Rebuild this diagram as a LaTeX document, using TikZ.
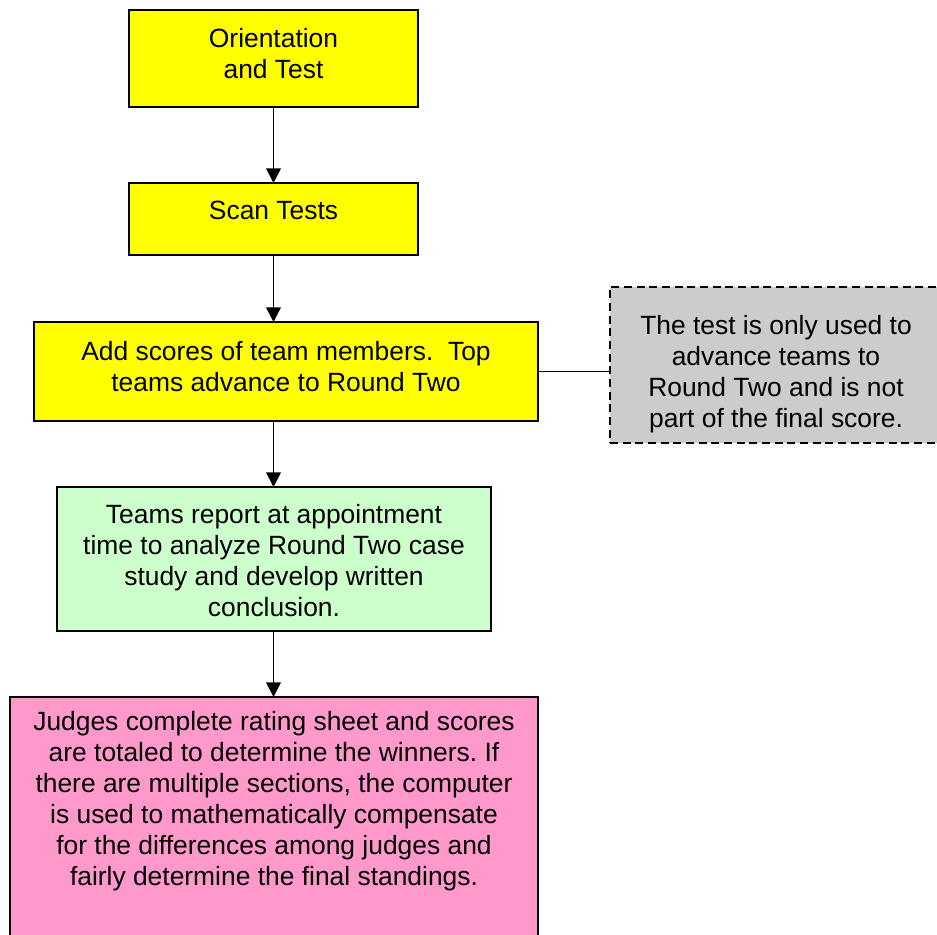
\documentclass[tikz,border=0pt]{standalone}
\usepackage{fontspec}
\setmainfont{Liberation Sans}
\usetikzlibrary{arrows.meta}
\definecolor{stepyellow}{RGB}{255,255,0}
\definecolor{stepgreen}{RGB}{204,255,204}
\definecolor{steppink}{RGB}{255,153,204}
\definecolor{notegray}{RGB}{204,204,204}
\frenchspacing
\begin{document}
\begin{tikzpicture}[x=0.75pt,y=-0.75pt,
  stepbox/.style={draw=black,line width=1.4pt,rectangle,inner sep=0pt,outer sep=0pt},
  notebox/.style={draw=black,line width=1.3pt,dash pattern=on 6pt off 3.5pt,fill=notegray,rectangle,inner sep=0pt,outer sep=0pt},
  txt/.style={align=center,font=\fontsize{19.8pt}{23.25pt}\selectfont,inner sep=0pt},
  flow/.style={line width=1.4pt,-{Triangle[length=11pt,width=11pt]}},
  link/.style={line width=1.4pt}]
\useasboundingbox (0,0) rectangle (937,934);
\clip (0,0) rectangle (937,934);

% boxes
\node[stepbox,fill=stepyellow,minimum width=216.75pt,minimum height=72.75pt] (b1) at (273.5,58.5) {};
\node[stepbox,fill=stepyellow,minimum width=216.75pt,minimum height=54pt] (b2) at (273.5,219) {};
\node[stepbox,fill=stepyellow,minimum width=378pt,minimum height=74.25pt] (b3) at (286,371.5) {};
\node[notebox,minimum width=249pt,minimum height=117pt] (note) at (776,365) {};
\node[stepbox,fill=stepgreen,minimum width=325.5pt,minimum height=108pt] (b4) at (274,559) {};
\node[stepbox,fill=steppink,minimum width=396pt,minimum height=197.25pt] (b5) at (274,828.5) {};

% texts
\node[txt] (t1) at (273.5,53.5) {Orientation\\and Test};
\node[txt] (t2) at (273.5,210) {Scan Tests};
\node[txt] (t3) at (286,367) {Add scores of team members.\ \ Top\\teams advance to Round Two};
\node[txt] (tn) at (776,374) {The test is only used to\\advance teams to\\Round Two and is not\\part of the final score.};
\node[txt] (t4) at (274,560.5) {Teams report at appointment\\time to analyze Round Two case\\study and develop written\\conclusion.};
\node[txt] (t5) at (274,801) {Judges complete rating sheet and scores\\are totaled to determine the winners. If\\there are multiple sections, the computer\\is used to mathematically compensate\\for the differences among judges and\\fairly determine the final standings.};

% connectors
\draw[flow] (b1.south) -- (b2.north);
\draw[flow] (b2.south) -- (b3.north -| b2.south);
\draw[flow] (b3.south -| b2.south) -- (b4.north -| b2.south);
\draw[flow] (b4.south -| b2.south) -- (b5.north -| b2.south);
\draw[link] (b3.east) -- (b3.east -| note.west);
\end{tikzpicture}
\end{document}
